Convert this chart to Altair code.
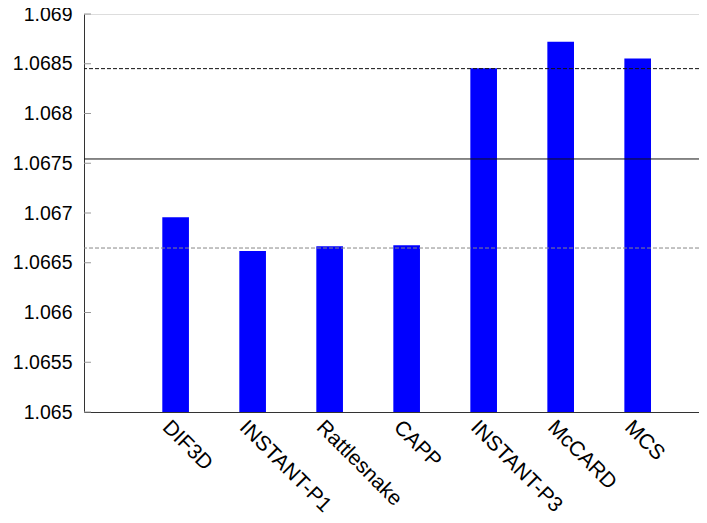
import altair as alt
import pandas as pd

codes = ["DIF3D", "INSTANT-P1", "Rattlesnake", "CAPP", "INSTANT-P3", "McCARD", "MCS"]
keff = [1.066957, 1.066618, 1.066665, 1.066675, 1.068454, 1.068722, 1.068552]

mean_line = [1.067543]
upper_line = [1.068451]
lower_line = [1.066648]

y_ticks = [1.065, 1.0655, 1.066, 1.0665, 1.067, 1.0675, 1.068, 1.0685, 1.069]
y_min, y_max = 1.065, 1.069

bars_df = pd.DataFrame({"code": codes, "keff": keff})
mean_df = pd.DataFrame({"v": mean_line})
upper_df = pd.DataFrame({"v": upper_line})
lower_df = pd.DataFrame({"v": lower_line})
ticks_df = pd.DataFrame({"t": y_ticks})

FONT = "Liberation Sans"

yscale = alt.Scale(domain=[y_min, y_max], zero=False, nice=False)

bars = alt.Chart(bars_df).mark_bar(color="#0000FF").encode(
    x=alt.X("code:N", sort=None, title=None,
            scale=alt.Scale(paddingInner=0.654, paddingOuter=0.82, align=0.62),
            axis=alt.Axis(labelAngle=45, labelAlign="left", labelBaseline="top",
                          labelFont=FONT, labelFontSize=21, labelColor="#000000",
                          labelPadding=4, labelOffset=-2, ticks=False, domainColor="#333333",
                          labelLimit=300)),
    y=alt.Y("keff:Q", scale=yscale, title=None,
            axis=alt.Axis(values=y_ticks, format=".4~f", ticks=False, grid=False,
                          labelFont=FONT, labelFontSize=19.5, labelColor="#000000",
                          labelPadding=12, domainColor="#333333")),
    y2=alt.datum(y_min),
)

inner_ticks = alt.Chart(ticks_df).mark_rule(color="#999999", strokeWidth=1).encode(
    y=alt.Y("t:Q", scale=yscale),
    x=alt.value(0), x2=alt.value(7),
)

mean_rule = alt.Chart(mean_df).mark_rule(color="#111111", strokeWidth=1).encode(
    y=alt.Y("v:Q", scale=yscale))
upper_rule = alt.Chart(upper_df).mark_rule(color="#111111", strokeWidth=1, strokeDash=[4, 2]).encode(
    y=alt.Y("v:Q", scale=yscale))
lower_rule = alt.Chart(lower_df).mark_rule(color="#888888", strokeWidth=1, strokeDash=[4, 2]).encode(
    y=alt.Y("v:Q", scale=yscale))

chart = alt.layer(bars, inner_ticks, mean_rule, upper_rule, lower_rule).properties(
    width=615, height=398,
    autosize=alt.AutoSizeParams(type="none"),
    padding={"left": 76, "top": 6, "right": 0, "bottom": 103},
).configure_view(stroke="#888888", strokeWidth=1).configure(background="white")

chart.save("out.html", embed_options={"renderer": "svg", "actions": False})
